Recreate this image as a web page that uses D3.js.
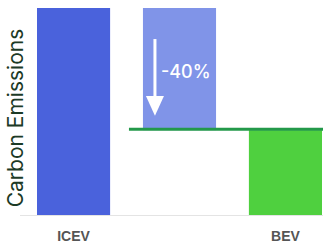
<!DOCTYPE html>
<html>
<head>
<meta charset="utf-8">
<script src="https://cdn.jsdelivr.net/npm/d3@7"></script>
<style>
  body { margin: 0; background: #fff; }
</style>
</head>
<body>
<div class="chart"></div>
<script>
var categories = ["ICEV", "Reduction", "BEV"];
var tickLabels = ["ICEV", "", "BEV"];
var barLow = [0, 41, 0];
var barHigh = [100, 100, 41];
var colors = ["#4a62dc", "#8094e8", "#4fd03f"];
var reductionLabel = "-40%";

var width = 323,
    height = 244,
    margin = {top: 8, right: 1, bottom: 29, left: 37};

var svg = d3.select(".chart")
    .append("svg")
    .attr("width", width)
    .attr("height", height);

var x = d3.scaleBand()
    .domain(categories)
    .range([margin.left, width - margin.right])
    .paddingInner(0.31)
    .paddingOuter(0);

var y = d3.scaleLinear()
    .domain([0, 100])
    .range([height - margin.bottom, margin.top]);

// baseline
svg.append("line")
    .attr("x1", 20)
    .attr("x2", width)
    .attr("y1", y(0) + 0.5)
    .attr("y2", y(0) + 0.5)
    .attr("stroke", "#e4e4e4")
    .attr("stroke-width", 1);

svg.append("g")
    .selectAll("rect")
    .data(categories)
    .enter().append("rect")
    .attr("x", function(d) { return x(d); })
    .attr("y", function(d, i) { return y(barHigh[i]); })
    .attr("width", x.bandwidth())
    .attr("height", function(d, i) { return y(barLow[i]) - y(barHigh[i]); })
    .attr("fill", function(d, i) { return colors[i]; });

// BEV level line
svg.append("line")
    .attr("x1", x("Reduction") - 14)
    .attr("x2", width)
    .attr("y1", y(barHigh[2]) - 1)
    .attr("y2", y(barHigh[2]) - 1)
    .attr("stroke", "#23994a")
    .attr("stroke-width", 3);

// arrow in the reduction bar
var ax = x("Reduction") + 12;
svg.append("line")
    .attr("x1", ax)
    .attr("x2", ax)
    .attr("y1", y(85))
    .attr("y2", y(57))
    .attr("stroke", "#fff")
    .attr("stroke-width", 3);
svg.append("path")
    .attr("d", "M" + (ax - 9) + "," + y(57.5) + "L" + (ax + 9) + "," + y(57.5) + "L" + ax + "," + y(48) + "Z")
    .attr("fill", "#fff");

svg.append("text")
    .attr("x", ax + 6)
    .attr("y", y(66))
    .attr("fill", "#fff")
    .attr("font-family", "Inter, sans-serif")
    .attr("font-size", 18)
    .attr("font-weight", 500)
    .text(reductionLabel);

// x labels
svg.append("g")
    .selectAll("text")
    .data(categories)
    .enter().append("text")
    .attr("x", function(d) { return x(d) + x.bandwidth() / 2; })
    .attr("y", 241)
    .attr("text-anchor", "middle")
    .attr("fill", "#555")
    .attr("font-family", "'Liberation Sans', Arial, sans-serif")
    .attr("font-size", 14)
    .attr("font-weight", "bold")
    .text(function(d, i) { return tickLabels[i]; });

// y label
svg.append("text")
    .attr("transform", "translate(23,118) rotate(-90)")
    .attr("text-anchor", "middle")
    .attr("fill", "#1c3a26")
    .attr("font-family", "Inter, sans-serif")
    .attr("font-size", 21)
    .text("Carbon Emissions");
</script>
</body>
</html>
